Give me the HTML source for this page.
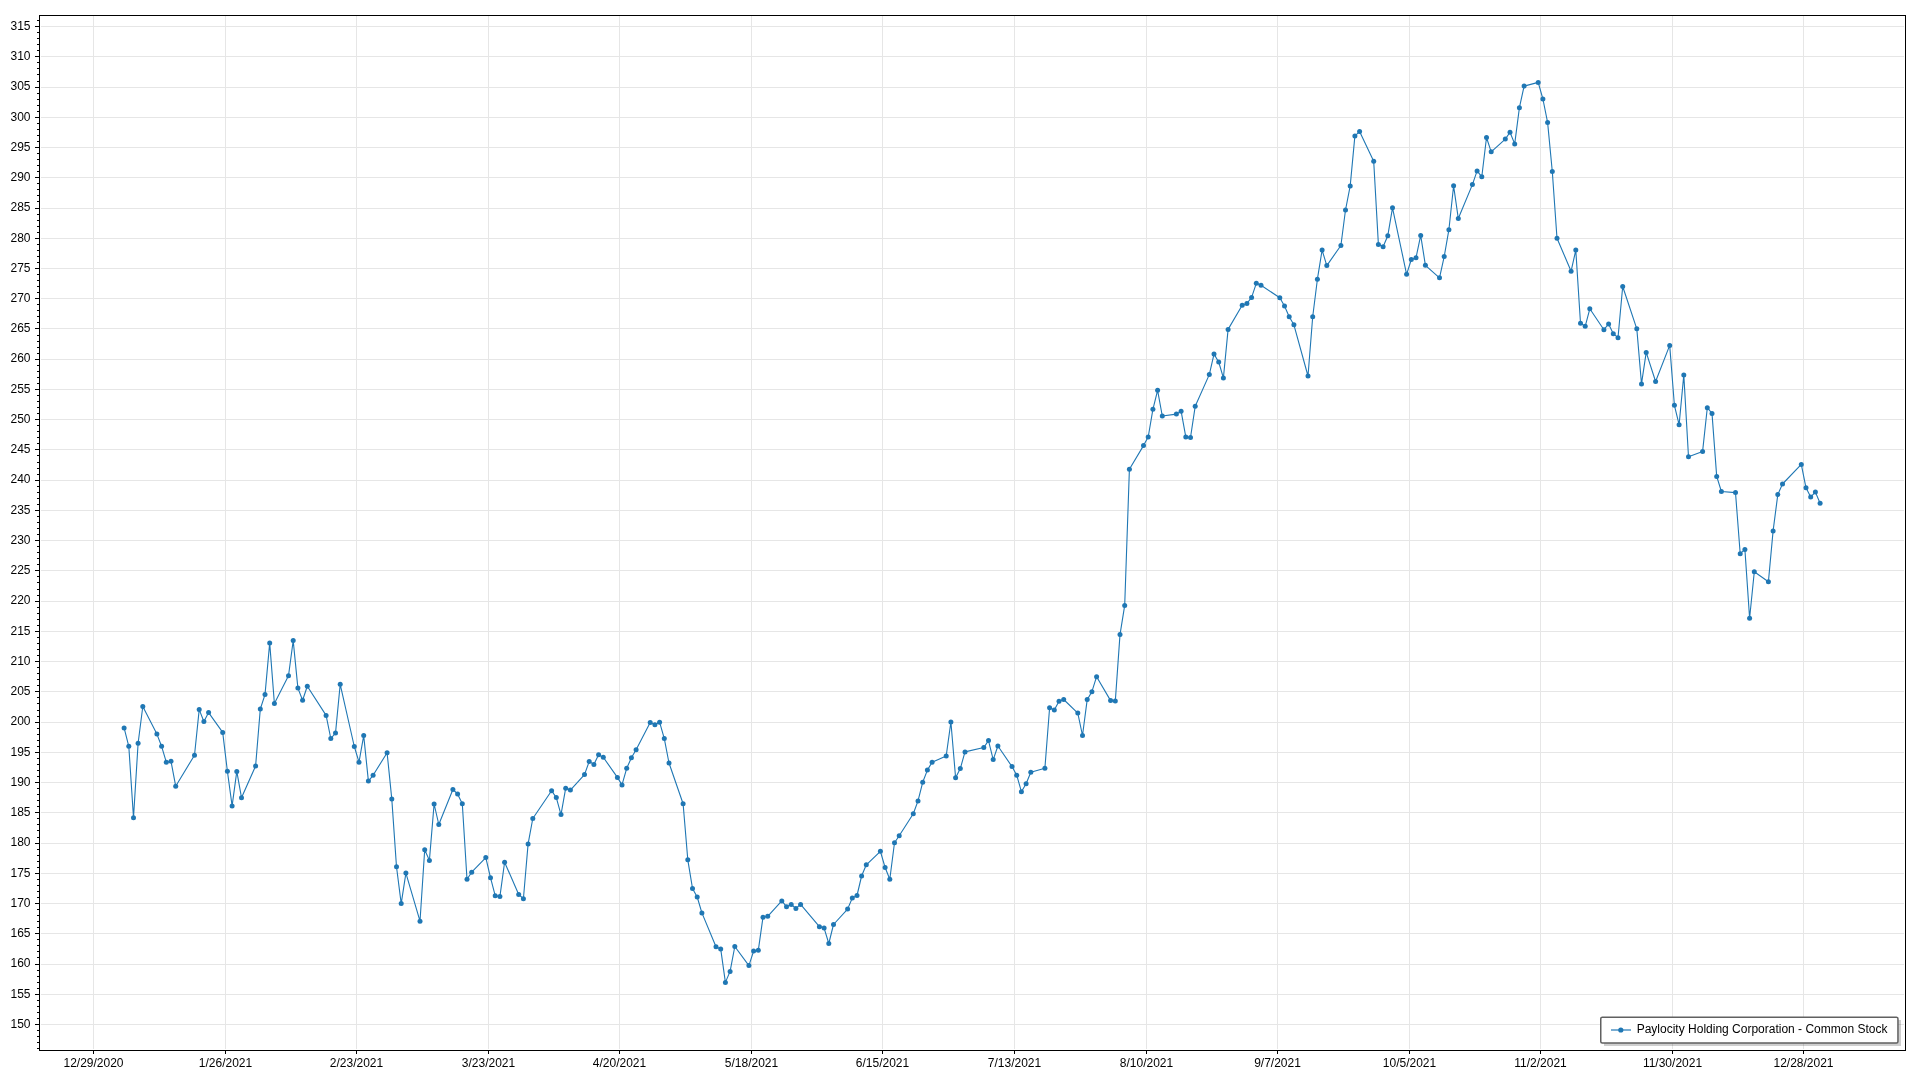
<!DOCTYPE html>
<html><head><meta charset="utf-8"><style>
html,body{margin:0;padding:0;background:#fff;width:1920px;height:1080px;overflow:hidden}
svg{display:block}
.t,text{opacity:0.999}
.t,text{font-family:"Liberation Sans",sans-serif;font-size:12px;fill:#000}
</style></head><body>
<svg width="1920" height="1080" viewBox="0 0 1920 1080">
<path d="M41 1024.5H1904 M41 994.5H1904 M41 964.5H1904 M41 933.5H1904 M41 903.5H1904 M41 873.5H1904 M41 843.5H1904 M41 812.5H1904 M41 782.5H1904 M41 752.5H1904 M41 722.5H1904 M41 691.5H1904 M41 661.5H1904 M41 631.5H1904 M41 601.5H1904 M41 570.5H1904 M41 540.5H1904 M41 510.5H1904 M41 480.5H1904 M41 449.5H1904 M41 419.5H1904 M41 389.5H1904 M41 359.5H1904 M41 328.5H1904 M41 298.5H1904 M41 268.5H1904 M41 238.5H1904 M41 208.5H1904 M41 177.5H1904 M41 147.5H1904 M41 117.5H1904 M41 87.5H1904 M41 56.5H1904 M41 26.5H1904 M93.5 16V1049 M225.5 16V1049 M356.5 16V1049 M488.5 16V1049 M619.5 16V1049 M751.5 16V1049 M882.5 16V1049 M1014.5 16V1049 M1146.5 16V1049 M1277.5 16V1049 M1409.5 16V1049 M1540.5 16V1049 M1672.5 16V1049 M1803.5 16V1049" stroke="#e6e6e6" stroke-width="1" fill="none"/>
<path d="M37 1048.5H39.5 M37 1042.5H39.5 M37 1036.5H39.5 M37 1030.5H39.5 M35 1024.5H39.5 M37 1018.5H39.5 M37 1012.5H39.5 M37 1006.5H39.5 M37 1000.5H39.5 M35 994.5H39.5 M37 988.5H39.5 M37 982.5H39.5 M37 976.5H39.5 M37 970.5H39.5 M35 964.5H39.5 M37 957.5H39.5 M37 951.5H39.5 M37 945.5H39.5 M37 939.5H39.5 M35 933.5H39.5 M37 927.5H39.5 M37 921.5H39.5 M37 915.5H39.5 M37 909.5H39.5 M35 903.5H39.5 M37 897.5H39.5 M37 891.5H39.5 M37 885.5H39.5 M37 879.5H39.5 M35 873.5H39.5 M37 867.5H39.5 M37 861.5H39.5 M37 855.5H39.5 M37 849.5H39.5 M35 843.5H39.5 M37 837.5H39.5 M37 830.5H39.5 M37 824.5H39.5 M37 818.5H39.5 M35 812.5H39.5 M37 806.5H39.5 M37 800.5H39.5 M37 794.5H39.5 M37 788.5H39.5 M35 782.5H39.5 M37 776.5H39.5 M37 770.5H39.5 M37 764.5H39.5 M37 758.5H39.5 M35 752.5H39.5 M37 746.5H39.5 M37 740.5H39.5 M37 734.5H39.5 M37 728.5H39.5 M35 722.5H39.5 M37 716.5H39.5 M37 710.5H39.5 M37 703.5H39.5 M37 697.5H39.5 M35 691.5H39.5 M37 685.5H39.5 M37 679.5H39.5 M37 673.5H39.5 M37 667.5H39.5 M35 661.5H39.5 M37 655.5H39.5 M37 649.5H39.5 M37 643.5H39.5 M37 637.5H39.5 M35 631.5H39.5 M37 625.5H39.5 M37 619.5H39.5 M37 613.5H39.5 M37 607.5H39.5 M35 601.5H39.5 M37 595.5H39.5 M37 589.5H39.5 M37 582.5H39.5 M37 576.5H39.5 M35 570.5H39.5 M37 564.5H39.5 M37 558.5H39.5 M37 552.5H39.5 M37 546.5H39.5 M35 540.5H39.5 M37 534.5H39.5 M37 528.5H39.5 M37 522.5H39.5 M37 516.5H39.5 M35 510.5H39.5 M37 504.5H39.5 M37 498.5H39.5 M37 492.5H39.5 M37 486.5H39.5 M35 480.5H39.5 M37 474.5H39.5 M37 468.5H39.5 M37 462.5H39.5 M37 455.5H39.5 M35 449.5H39.5 M37 443.5H39.5 M37 437.5H39.5 M37 431.5H39.5 M37 425.5H39.5 M35 419.5H39.5 M37 413.5H39.5 M37 407.5H39.5 M37 401.5H39.5 M37 395.5H39.5 M35 389.5H39.5 M37 383.5H39.5 M37 377.5H39.5 M37 371.5H39.5 M37 365.5H39.5 M35 359.5H39.5 M37 353.5H39.5 M37 347.5H39.5 M37 341.5H39.5 M37 335.5H39.5 M35 328.5H39.5 M37 322.5H39.5 M37 316.5H39.5 M37 310.5H39.5 M37 304.5H39.5 M35 298.5H39.5 M37 292.5H39.5 M37 286.5H39.5 M37 280.5H39.5 M37 274.5H39.5 M35 268.5H39.5 M37 262.5H39.5 M37 256.5H39.5 M37 250.5H39.5 M37 244.5H39.5 M35 238.5H39.5 M37 232.5H39.5 M37 226.5H39.5 M37 220.5H39.5 M37 214.5H39.5 M35 208.5H39.5 M37 201.5H39.5 M37 195.5H39.5 M37 189.5H39.5 M37 183.5H39.5 M35 177.5H39.5 M37 171.5H39.5 M37 165.5H39.5 M37 159.5H39.5 M37 153.5H39.5 M35 147.5H39.5 M37 141.5H39.5 M37 135.5H39.5 M37 129.5H39.5 M37 123.5H39.5 M35 117.5H39.5 M37 111.5H39.5 M37 105.5H39.5 M37 99.5H39.5 M37 93.5H39.5 M35 87.5H39.5 M37 81.5H39.5 M37 74.5H39.5 M37 68.5H39.5 M37 62.5H39.5 M35 56.5H39.5 M37 50.5H39.5 M37 44.5H39.5 M37 38.5H39.5 M37 32.5H39.5 M35 26.5H39.5 M37 20.5H39.5 M93.5 1051V1054 M225.5 1051V1054 M356.5 1051V1054 M488.5 1051V1054 M619.5 1051V1054 M751.5 1051V1054 M882.5 1051V1054 M1014.5 1051V1054 M1146.5 1051V1054 M1277.5 1051V1054 M1409.5 1051V1054 M1540.5 1051V1054 M1672.5 1051V1054 M1803.5 1051V1054" stroke="#000" stroke-width="1" fill="none"/>
<rect x="39.5" y="15.5" width="1866.0" height="1035.0" fill="none" stroke="#000" stroke-width="1"/>
<path d="M124.1 727.9 L128.8 746.3 L133.5 817.8 L138.1 743.3 L142.8 706.5 L156.9 734.1 L161.6 746.3 L166.3 762.2 L171.0 761.3 L175.7 786.2 L194.5 755.2 L199.2 709.6 L203.9 721.5 L208.6 712.6 L222.7 732.4 L227.4 771.3 L232.1 805.9 L236.8 771.4 L241.5 797.7 L255.6 766.0 L260.3 709.0 L265.0 694.6 L269.7 642.9 L274.4 703.6 L288.5 675.7 L293.2 640.6 L297.9 688.1 L302.6 700.2 L307.3 686.3 L326.1 715.4 L330.8 738.5 L335.5 733.1 L340.2 684.3 L354.3 746.5 L359.0 762.2 L363.7 735.6 L368.4 781.1 L373.1 775.3 L387.1 752.7 L391.8 799.1 L396.5 866.8 L401.2 903.6 L405.9 873.1 L420.0 921.2 L424.7 849.8 L429.4 860.4 L434.1 804.0 L438.8 824.5 L452.9 789.5 L457.6 793.9 L462.3 803.7 L467.0 879.2 L471.7 872.2 L485.8 857.6 L490.5 877.7 L495.2 895.7 L499.9 896.6 L504.6 862.2 L518.7 894.5 L523.4 898.7 L528.1 843.9 L532.8 818.5 L551.6 790.8 L556.3 797.6 L561.0 814.6 L565.7 788.2 L570.4 790.1 L584.5 774.6 L589.2 761.5 L593.9 764.4 L598.6 754.8 L603.3 757.3 L617.4 777.4 L622.0 784.9 L626.7 768.3 L631.4 757.8 L636.1 749.8 L650.2 722.5 L654.9 724.7 L659.6 722.2 L664.3 738.6 L669.0 763.0 L683.1 803.7 L687.8 859.8 L692.5 888.4 L697.2 897.0 L701.9 912.9 L716.0 946.8 L720.7 948.9 L725.4 982.4 L730.1 971.4 L734.8 946.5 L748.9 965.6 L753.6 951.1 L758.3 950.3 L763.0 917.2 L767.7 916.3 L781.8 900.9 L786.5 906.7 L791.2 904.5 L795.9 908.4 L800.6 904.4 L819.4 926.7 L824.1 928.1 L828.8 943.5 L833.5 924.5 L847.6 909.1 L852.3 898.0 L857.0 895.5 L861.6 876.0 L866.3 864.8 L880.4 851.3 L885.1 867.5 L889.8 879.2 L894.5 842.8 L899.2 835.8 L913.3 813.7 L918.0 800.9 L922.7 782.3 L927.4 770.1 L932.1 762.2 L946.2 755.9 L950.9 722.0 L955.6 777.7 L960.3 768.6 L965.0 751.9 L983.8 747.5 L988.5 740.6 L993.2 759.6 L997.9 746.0 L1012.0 766.6 L1016.7 775.2 L1021.4 791.7 L1026.1 783.8 L1030.8 772.2 L1044.9 768.2 L1049.6 707.8 L1054.3 709.9 L1059.0 701.3 L1063.7 699.5 L1077.8 713.1 L1082.5 735.5 L1087.2 699.6 L1091.9 691.7 L1096.6 676.7 L1110.6 700.6 L1115.3 701.1 L1120.0 634.6 L1124.7 605.4 L1129.4 469.3 L1143.5 445.6 L1148.2 437.0 L1152.9 409.3 L1157.6 390.3 L1162.3 416.0 L1176.4 414.1 L1181.1 411.2 L1185.8 436.9 L1190.5 437.5 L1195.2 406.3 L1209.3 374.6 L1214.0 354.1 L1218.7 362.0 L1223.4 377.9 L1228.1 329.4 L1242.2 305.2 L1246.9 303.5 L1251.6 297.4 L1256.3 283.3 L1261.0 285.3 L1279.8 297.8 L1284.5 306.0 L1289.2 316.7 L1293.9 324.8 L1308.0 376.0 L1312.7 316.8 L1317.4 279.2 L1322.1 250.1 L1326.8 265.6 L1340.9 245.5 L1345.5 210.0 L1350.2 185.9 L1354.9 135.9 L1359.6 131.6 L1373.7 161.2 L1378.4 244.4 L1383.1 246.7 L1387.8 235.7 L1392.5 207.8 L1406.6 274.3 L1411.3 259.5 L1416.0 257.8 L1420.7 235.4 L1425.4 265.3 L1439.5 277.8 L1444.2 256.6 L1448.9 229.7 L1453.6 185.8 L1458.3 218.5 L1472.4 184.6 L1477.1 170.9 L1481.8 176.8 L1486.5 137.5 L1491.2 151.8 L1505.3 139.1 L1510.0 132.2 L1514.7 143.9 L1519.4 107.7 L1524.1 86.1 L1538.2 82.4 L1542.9 99.0 L1547.6 122.4 L1552.3 171.5 L1557.0 238.2 L1571.1 271.2 L1575.8 250.1 L1580.5 323.2 L1585.2 326.3 L1589.8 308.8 L1603.9 329.7 L1608.6 324.0 L1613.3 333.7 L1618.0 337.7 L1622.7 286.5 L1636.8 328.8 L1641.5 383.9 L1646.2 352.4 L1655.6 381.5 L1669.7 345.4 L1674.4 405.3 L1679.1 424.7 L1683.8 374.9 L1688.5 456.8 L1702.6 451.4 L1707.3 407.7 L1712.0 413.4 L1716.7 476.4 L1721.4 491.5 L1735.5 492.6 L1740.2 553.7 L1744.9 549.4 L1749.6 618.2 L1754.3 571.7 L1768.4 581.7 L1773.1 530.9 L1777.8 494.6 L1782.5 484.0 L1801.3 464.4 L1806.0 487.8 L1810.7 496.9 L1815.4 492.1 L1820.1 503.3" stroke="#1f77b4" stroke-width="1.1" fill="none" stroke-linejoin="round"/>
<g fill="#1f77b4"><circle cx="124.1" cy="727.9" r="2.5"/><circle cx="128.8" cy="746.3" r="2.5"/><circle cx="133.5" cy="817.8" r="2.5"/><circle cx="138.1" cy="743.3" r="2.5"/><circle cx="142.8" cy="706.5" r="2.5"/><circle cx="156.9" cy="734.1" r="2.5"/><circle cx="161.6" cy="746.3" r="2.5"/><circle cx="166.3" cy="762.2" r="2.5"/><circle cx="171.0" cy="761.3" r="2.5"/><circle cx="175.7" cy="786.2" r="2.5"/><circle cx="194.5" cy="755.2" r="2.5"/><circle cx="199.2" cy="709.6" r="2.5"/><circle cx="203.9" cy="721.5" r="2.5"/><circle cx="208.6" cy="712.6" r="2.5"/><circle cx="222.7" cy="732.4" r="2.5"/><circle cx="227.4" cy="771.3" r="2.5"/><circle cx="232.1" cy="805.9" r="2.5"/><circle cx="236.8" cy="771.4" r="2.5"/><circle cx="241.5" cy="797.7" r="2.5"/><circle cx="255.6" cy="766.0" r="2.5"/><circle cx="260.3" cy="709.0" r="2.5"/><circle cx="265.0" cy="694.6" r="2.5"/><circle cx="269.7" cy="642.9" r="2.5"/><circle cx="274.4" cy="703.6" r="2.5"/><circle cx="288.5" cy="675.7" r="2.5"/><circle cx="293.2" cy="640.6" r="2.5"/><circle cx="297.9" cy="688.1" r="2.5"/><circle cx="302.6" cy="700.2" r="2.5"/><circle cx="307.3" cy="686.3" r="2.5"/><circle cx="326.1" cy="715.4" r="2.5"/><circle cx="330.8" cy="738.5" r="2.5"/><circle cx="335.5" cy="733.1" r="2.5"/><circle cx="340.2" cy="684.3" r="2.5"/><circle cx="354.3" cy="746.5" r="2.5"/><circle cx="359.0" cy="762.2" r="2.5"/><circle cx="363.7" cy="735.6" r="2.5"/><circle cx="368.4" cy="781.1" r="2.5"/><circle cx="373.1" cy="775.3" r="2.5"/><circle cx="387.1" cy="752.7" r="2.5"/><circle cx="391.8" cy="799.1" r="2.5"/><circle cx="396.5" cy="866.8" r="2.5"/><circle cx="401.2" cy="903.6" r="2.5"/><circle cx="405.9" cy="873.1" r="2.5"/><circle cx="420.0" cy="921.2" r="2.5"/><circle cx="424.7" cy="849.8" r="2.5"/><circle cx="429.4" cy="860.4" r="2.5"/><circle cx="434.1" cy="804.0" r="2.5"/><circle cx="438.8" cy="824.5" r="2.5"/><circle cx="452.9" cy="789.5" r="2.5"/><circle cx="457.6" cy="793.9" r="2.5"/><circle cx="462.3" cy="803.7" r="2.5"/><circle cx="467.0" cy="879.2" r="2.5"/><circle cx="471.7" cy="872.2" r="2.5"/><circle cx="485.8" cy="857.6" r="2.5"/><circle cx="490.5" cy="877.7" r="2.5"/><circle cx="495.2" cy="895.7" r="2.5"/><circle cx="499.9" cy="896.6" r="2.5"/><circle cx="504.6" cy="862.2" r="2.5"/><circle cx="518.7" cy="894.5" r="2.5"/><circle cx="523.4" cy="898.7" r="2.5"/><circle cx="528.1" cy="843.9" r="2.5"/><circle cx="532.8" cy="818.5" r="2.5"/><circle cx="551.6" cy="790.8" r="2.5"/><circle cx="556.3" cy="797.6" r="2.5"/><circle cx="561.0" cy="814.6" r="2.5"/><circle cx="565.7" cy="788.2" r="2.5"/><circle cx="570.4" cy="790.1" r="2.5"/><circle cx="584.5" cy="774.6" r="2.5"/><circle cx="589.2" cy="761.5" r="2.5"/><circle cx="593.9" cy="764.4" r="2.5"/><circle cx="598.6" cy="754.8" r="2.5"/><circle cx="603.3" cy="757.3" r="2.5"/><circle cx="617.4" cy="777.4" r="2.5"/><circle cx="622.0" cy="784.9" r="2.5"/><circle cx="626.7" cy="768.3" r="2.5"/><circle cx="631.4" cy="757.8" r="2.5"/><circle cx="636.1" cy="749.8" r="2.5"/><circle cx="650.2" cy="722.5" r="2.5"/><circle cx="654.9" cy="724.7" r="2.5"/><circle cx="659.6" cy="722.2" r="2.5"/><circle cx="664.3" cy="738.6" r="2.5"/><circle cx="669.0" cy="763.0" r="2.5"/><circle cx="683.1" cy="803.7" r="2.5"/><circle cx="687.8" cy="859.8" r="2.5"/><circle cx="692.5" cy="888.4" r="2.5"/><circle cx="697.2" cy="897.0" r="2.5"/><circle cx="701.9" cy="912.9" r="2.5"/><circle cx="716.0" cy="946.8" r="2.5"/><circle cx="720.7" cy="948.9" r="2.5"/><circle cx="725.4" cy="982.4" r="2.5"/><circle cx="730.1" cy="971.4" r="2.5"/><circle cx="734.8" cy="946.5" r="2.5"/><circle cx="748.9" cy="965.6" r="2.5"/><circle cx="753.6" cy="951.1" r="2.5"/><circle cx="758.3" cy="950.3" r="2.5"/><circle cx="763.0" cy="917.2" r="2.5"/><circle cx="767.7" cy="916.3" r="2.5"/><circle cx="781.8" cy="900.9" r="2.5"/><circle cx="786.5" cy="906.7" r="2.5"/><circle cx="791.2" cy="904.5" r="2.5"/><circle cx="795.9" cy="908.4" r="2.5"/><circle cx="800.6" cy="904.4" r="2.5"/><circle cx="819.4" cy="926.7" r="2.5"/><circle cx="824.1" cy="928.1" r="2.5"/><circle cx="828.8" cy="943.5" r="2.5"/><circle cx="833.5" cy="924.5" r="2.5"/><circle cx="847.6" cy="909.1" r="2.5"/><circle cx="852.3" cy="898.0" r="2.5"/><circle cx="857.0" cy="895.5" r="2.5"/><circle cx="861.6" cy="876.0" r="2.5"/><circle cx="866.3" cy="864.8" r="2.5"/><circle cx="880.4" cy="851.3" r="2.5"/><circle cx="885.1" cy="867.5" r="2.5"/><circle cx="889.8" cy="879.2" r="2.5"/><circle cx="894.5" cy="842.8" r="2.5"/><circle cx="899.2" cy="835.8" r="2.5"/><circle cx="913.3" cy="813.7" r="2.5"/><circle cx="918.0" cy="800.9" r="2.5"/><circle cx="922.7" cy="782.3" r="2.5"/><circle cx="927.4" cy="770.1" r="2.5"/><circle cx="932.1" cy="762.2" r="2.5"/><circle cx="946.2" cy="755.9" r="2.5"/><circle cx="950.9" cy="722.0" r="2.5"/><circle cx="955.6" cy="777.7" r="2.5"/><circle cx="960.3" cy="768.6" r="2.5"/><circle cx="965.0" cy="751.9" r="2.5"/><circle cx="983.8" cy="747.5" r="2.5"/><circle cx="988.5" cy="740.6" r="2.5"/><circle cx="993.2" cy="759.6" r="2.5"/><circle cx="997.9" cy="746.0" r="2.5"/><circle cx="1012.0" cy="766.6" r="2.5"/><circle cx="1016.7" cy="775.2" r="2.5"/><circle cx="1021.4" cy="791.7" r="2.5"/><circle cx="1026.1" cy="783.8" r="2.5"/><circle cx="1030.8" cy="772.2" r="2.5"/><circle cx="1044.9" cy="768.2" r="2.5"/><circle cx="1049.6" cy="707.8" r="2.5"/><circle cx="1054.3" cy="709.9" r="2.5"/><circle cx="1059.0" cy="701.3" r="2.5"/><circle cx="1063.7" cy="699.5" r="2.5"/><circle cx="1077.8" cy="713.1" r="2.5"/><circle cx="1082.5" cy="735.5" r="2.5"/><circle cx="1087.2" cy="699.6" r="2.5"/><circle cx="1091.9" cy="691.7" r="2.5"/><circle cx="1096.6" cy="676.7" r="2.5"/><circle cx="1110.6" cy="700.6" r="2.5"/><circle cx="1115.3" cy="701.1" r="2.5"/><circle cx="1120.0" cy="634.6" r="2.5"/><circle cx="1124.7" cy="605.4" r="2.5"/><circle cx="1129.4" cy="469.3" r="2.5"/><circle cx="1143.5" cy="445.6" r="2.5"/><circle cx="1148.2" cy="437.0" r="2.5"/><circle cx="1152.9" cy="409.3" r="2.5"/><circle cx="1157.6" cy="390.3" r="2.5"/><circle cx="1162.3" cy="416.0" r="2.5"/><circle cx="1176.4" cy="414.1" r="2.5"/><circle cx="1181.1" cy="411.2" r="2.5"/><circle cx="1185.8" cy="436.9" r="2.5"/><circle cx="1190.5" cy="437.5" r="2.5"/><circle cx="1195.2" cy="406.3" r="2.5"/><circle cx="1209.3" cy="374.6" r="2.5"/><circle cx="1214.0" cy="354.1" r="2.5"/><circle cx="1218.7" cy="362.0" r="2.5"/><circle cx="1223.4" cy="377.9" r="2.5"/><circle cx="1228.1" cy="329.4" r="2.5"/><circle cx="1242.2" cy="305.2" r="2.5"/><circle cx="1246.9" cy="303.5" r="2.5"/><circle cx="1251.6" cy="297.4" r="2.5"/><circle cx="1256.3" cy="283.3" r="2.5"/><circle cx="1261.0" cy="285.3" r="2.5"/><circle cx="1279.8" cy="297.8" r="2.5"/><circle cx="1284.5" cy="306.0" r="2.5"/><circle cx="1289.2" cy="316.7" r="2.5"/><circle cx="1293.9" cy="324.8" r="2.5"/><circle cx="1308.0" cy="376.0" r="2.5"/><circle cx="1312.7" cy="316.8" r="2.5"/><circle cx="1317.4" cy="279.2" r="2.5"/><circle cx="1322.1" cy="250.1" r="2.5"/><circle cx="1326.8" cy="265.6" r="2.5"/><circle cx="1340.9" cy="245.5" r="2.5"/><circle cx="1345.5" cy="210.0" r="2.5"/><circle cx="1350.2" cy="185.9" r="2.5"/><circle cx="1354.9" cy="135.9" r="2.5"/><circle cx="1359.6" cy="131.6" r="2.5"/><circle cx="1373.7" cy="161.2" r="2.5"/><circle cx="1378.4" cy="244.4" r="2.5"/><circle cx="1383.1" cy="246.7" r="2.5"/><circle cx="1387.8" cy="235.7" r="2.5"/><circle cx="1392.5" cy="207.8" r="2.5"/><circle cx="1406.6" cy="274.3" r="2.5"/><circle cx="1411.3" cy="259.5" r="2.5"/><circle cx="1416.0" cy="257.8" r="2.5"/><circle cx="1420.7" cy="235.4" r="2.5"/><circle cx="1425.4" cy="265.3" r="2.5"/><circle cx="1439.5" cy="277.8" r="2.5"/><circle cx="1444.2" cy="256.6" r="2.5"/><circle cx="1448.9" cy="229.7" r="2.5"/><circle cx="1453.6" cy="185.8" r="2.5"/><circle cx="1458.3" cy="218.5" r="2.5"/><circle cx="1472.4" cy="184.6" r="2.5"/><circle cx="1477.1" cy="170.9" r="2.5"/><circle cx="1481.8" cy="176.8" r="2.5"/><circle cx="1486.5" cy="137.5" r="2.5"/><circle cx="1491.2" cy="151.8" r="2.5"/><circle cx="1505.3" cy="139.1" r="2.5"/><circle cx="1510.0" cy="132.2" r="2.5"/><circle cx="1514.7" cy="143.9" r="2.5"/><circle cx="1519.4" cy="107.7" r="2.5"/><circle cx="1524.1" cy="86.1" r="2.5"/><circle cx="1538.2" cy="82.4" r="2.5"/><circle cx="1542.9" cy="99.0" r="2.5"/><circle cx="1547.6" cy="122.4" r="2.5"/><circle cx="1552.3" cy="171.5" r="2.5"/><circle cx="1557.0" cy="238.2" r="2.5"/><circle cx="1571.1" cy="271.2" r="2.5"/><circle cx="1575.8" cy="250.1" r="2.5"/><circle cx="1580.5" cy="323.2" r="2.5"/><circle cx="1585.2" cy="326.3" r="2.5"/><circle cx="1589.8" cy="308.8" r="2.5"/><circle cx="1603.9" cy="329.7" r="2.5"/><circle cx="1608.6" cy="324.0" r="2.5"/><circle cx="1613.3" cy="333.7" r="2.5"/><circle cx="1618.0" cy="337.7" r="2.5"/><circle cx="1622.7" cy="286.5" r="2.5"/><circle cx="1636.8" cy="328.8" r="2.5"/><circle cx="1641.5" cy="383.9" r="2.5"/><circle cx="1646.2" cy="352.4" r="2.5"/><circle cx="1655.6" cy="381.5" r="2.5"/><circle cx="1669.7" cy="345.4" r="2.5"/><circle cx="1674.4" cy="405.3" r="2.5"/><circle cx="1679.1" cy="424.7" r="2.5"/><circle cx="1683.8" cy="374.9" r="2.5"/><circle cx="1688.5" cy="456.8" r="2.5"/><circle cx="1702.6" cy="451.4" r="2.5"/><circle cx="1707.3" cy="407.7" r="2.5"/><circle cx="1712.0" cy="413.4" r="2.5"/><circle cx="1716.7" cy="476.4" r="2.5"/><circle cx="1721.4" cy="491.5" r="2.5"/><circle cx="1735.5" cy="492.6" r="2.5"/><circle cx="1740.2" cy="553.7" r="2.5"/><circle cx="1744.9" cy="549.4" r="2.5"/><circle cx="1749.6" cy="618.2" r="2.5"/><circle cx="1754.3" cy="571.7" r="2.5"/><circle cx="1768.4" cy="581.7" r="2.5"/><circle cx="1773.1" cy="530.9" r="2.5"/><circle cx="1777.8" cy="494.6" r="2.5"/><circle cx="1782.5" cy="484.0" r="2.5"/><circle cx="1801.3" cy="464.4" r="2.5"/><circle cx="1806.0" cy="487.8" r="2.5"/><circle cx="1810.7" cy="496.9" r="2.5"/><circle cx="1815.4" cy="492.1" r="2.5"/><circle cx="1820.1" cy="503.3" r="2.5"/></g>
<rect x="1604" y="1020" width="297" height="26" fill="#000" fill-opacity="0.19"/>
<rect x="1600.75" y="1017.2" width="297.2" height="25.7" rx="1.5" fill="#fff" stroke="#606060" stroke-width="1.5"/>
<path d="M1611 1030H1631" stroke="#1f77b4" stroke-opacity="0.6" stroke-width="2"/>
<circle cx="1620.8" cy="1030" r="2.6" fill="#1f77b4"/>
<g class="t"><text x="30.5" y="1027.7" text-anchor="end">150</text><text x="30.5" y="997.5" text-anchor="end">155</text><text x="30.5" y="967.2" text-anchor="end">160</text><text x="30.5" y="937.0" text-anchor="end">165</text><text x="30.5" y="906.7" text-anchor="end">170</text><text x="30.5" y="876.5" text-anchor="end">175</text><text x="30.5" y="846.3" text-anchor="end">180</text><text x="30.5" y="816.0" text-anchor="end">185</text><text x="30.5" y="785.8" text-anchor="end">190</text><text x="30.5" y="755.5" text-anchor="end">195</text><text x="30.5" y="725.3" text-anchor="end">200</text><text x="30.5" y="695.1" text-anchor="end">205</text><text x="30.5" y="664.8" text-anchor="end">210</text><text x="30.5" y="634.6" text-anchor="end">215</text><text x="30.5" y="604.3" text-anchor="end">220</text><text x="30.5" y="574.1" text-anchor="end">225</text><text x="30.5" y="543.9" text-anchor="end">230</text><text x="30.5" y="513.6" text-anchor="end">235</text><text x="30.5" y="483.4" text-anchor="end">240</text><text x="30.5" y="453.1" text-anchor="end">245</text><text x="30.5" y="422.9" text-anchor="end">250</text><text x="30.5" y="392.7" text-anchor="end">255</text><text x="30.5" y="362.4" text-anchor="end">260</text><text x="30.5" y="332.2" text-anchor="end">265</text><text x="30.5" y="301.9" text-anchor="end">270</text><text x="30.5" y="271.7" text-anchor="end">275</text><text x="30.5" y="241.5" text-anchor="end">280</text><text x="30.5" y="211.2" text-anchor="end">285</text><text x="30.5" y="181.0" text-anchor="end">290</text><text x="30.5" y="150.7" text-anchor="end">295</text><text x="30.5" y="120.5" text-anchor="end">300</text><text x="30.5" y="90.3" text-anchor="end">305</text><text x="30.5" y="60.0" text-anchor="end">310</text><text x="30.5" y="29.8" text-anchor="end">315</text><text x="93.5" y="1066.8" text-anchor="middle">12/29/2020</text><text x="225.5" y="1066.8" text-anchor="middle">1/26/2021</text><text x="356.5" y="1066.8" text-anchor="middle">2/23/2021</text><text x="488.5" y="1066.8" text-anchor="middle">3/23/2021</text><text x="619.5" y="1066.8" text-anchor="middle">4/20/2021</text><text x="751.5" y="1066.8" text-anchor="middle">5/18/2021</text><text x="882.5" y="1066.8" text-anchor="middle">6/15/2021</text><text x="1014.5" y="1066.8" text-anchor="middle">7/13/2021</text><text x="1146.5" y="1066.8" text-anchor="middle">8/10/2021</text><text x="1277.5" y="1066.8" text-anchor="middle">9/7/2021</text><text x="1409.5" y="1066.8" text-anchor="middle">10/5/2021</text><text x="1540.5" y="1066.8" text-anchor="middle">11/2/2021</text><text x="1672.5" y="1066.8" text-anchor="middle">11/30/2021</text><text x="1803.5" y="1066.8" text-anchor="middle">12/28/2021</text><text x="1636.7" y="1032.7">Paylocity Holding Corporation - Common Stock</text></g>
</svg>
</body></html>
